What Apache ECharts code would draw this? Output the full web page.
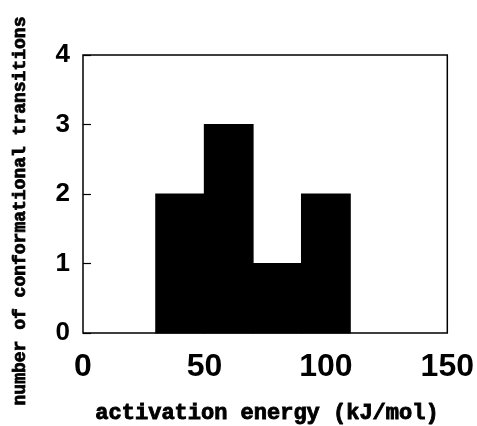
<!DOCTYPE html>
<html>
<head>
<meta charset="utf-8">
<script src="https://cdn.jsdelivr.net/npm/echarts@6/dist/echarts.min.js"></script>
<style>
html,body{margin:0;padding:0;background:#fff;}
#chart{width:477px;height:426px;}
</style>
</head>
<body>
<div id="chart"></div>
<script>
// Histogram bins (kJ/mol) and counts
var binStart = [30, 50, 70, 90];
var binEnd = [50, 70, 90, 110];
var counts = [2, 3, 1, 2];
var xTicks = [0, 50, 100, 150];
var yTicks = [0, 1, 2, 3, 4];
var xTitle = 'activation energy (kJ/mol)';
var yTitle = 'number of conformational transitions';

var data = binStart.map(function (s, i) { return [s, binEnd[i], counts[i]]; });

var chart = echarts.init(document.getElementById('chart'), null, {renderer: 'canvas'});
chart.setOption({
  animation: false,
  backgroundColor: '#fff',
  grid: {left: 83, right: 26, top: 55, bottom: 93, show: true, borderColor: '#000', borderWidth: 1.5, backgroundColor: 'transparent'},
  xAxis: {
    type: 'value', min: xTicks[0], max: xTicks[xTicks.length - 1], interval: 50,
    axisLine: {show: false}, axisTick: {show: false}, splitLine: {show: false},
    axisLabel: {fontFamily: 'Liberation Sans, Arial', fontWeight: 'bold', fontSize: 32, color: '#000', margin: 18}
  },
  yAxis: {
    type: 'value', min: yTicks[0], max: yTicks[yTicks.length - 1], interval: 1,
    axisLine: {show: false}, axisTick: {show: true, inside: true, length: 8, lineStyle: {color: '#000', width: 1.2}},
    splitLine: {show: false},
    axisLabel: {fontFamily: 'Liberation Sans, Arial', fontWeight: 'bold', fontSize: 26, color: '#000', margin: 13}
  },
  graphic: [
    {type: 'text', x: 267, y: 413, style: {text: xTitle, font: 'bold 22px "Liberation Mono", "Courier New", monospace', fill: '#000', stroke: '#000', lineWidth: 0.9, textAlign: 'center', textVerticalAlign: 'middle'}},
    {type: 'text', x: 20, y: 211, rotation: Math.PI / 2, style: {text: yTitle, font: 'bold 18px "Liberation Mono", "Courier New", monospace', fill: '#000', stroke: '#000', lineWidth: 0.8, textAlign: 'center', textVerticalAlign: 'middle'}}
  ],
  series: [{
    type: 'custom',
    data: data,
    encode: {x: [0, 1], y: 2},
    renderItem: function (params, api) {
      var p0 = api.coord([api.value(0), api.value(2)]);
      var p1 = api.coord([api.value(1), 0]);
      return {type: 'rect', shape: {x: p0[0], y: p0[1], width: p1[0] - p0[0], height: p1[1] - p0[1]}, style: {fill: '#000', stroke: '#000', lineWidth: 1.2}};
    }
  }]
});
</script>
</body>
</html>
